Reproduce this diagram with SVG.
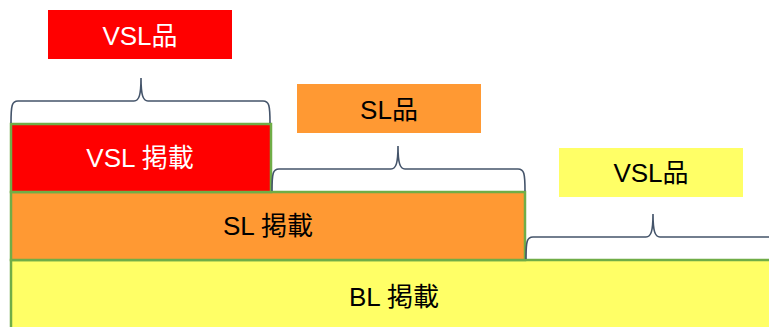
<svg xmlns="http://www.w3.org/2000/svg" width="769" height="327" viewBox="0 0 769 327">
<style>
text{font-family:"Liberation Sans","Noto Sans CJK JP",sans-serif;font-size:26px;text-anchor:middle}
.lbl{stroke:none}
.bar{stroke:#70AD47;stroke-width:2.5}
.brace{fill:none;stroke:#44546A;stroke-width:1.6}
.red{fill:#FF0000}
.org{fill:#FF9933}
.yel{fill:#FFFF66}
.w{fill:#FFFFFF}
.k{fill:#000000}
</style>
<rect width="769" height="327" fill="#FFFFFF"/>
<g id="bl-bar">
<rect class="bar yel" x="11" y="260" width="770" height="80"/>
<text class="k" x="394" y="306">BL 掲載</text>
</g>
<g id="sl-bar">
<rect class="bar org" x="11" y="192" width="514" height="68"/>
<text class="k" x="268" y="235">SL 掲載</text>
</g>
<g id="vsl-bar">
<rect class="bar red" x="11" y="124" width="260" height="68"/>
<text class="w" x="140" y="167">VSL 掲載</text>
</g>
<g id="vsl-label-red">
<rect class="lbl red" x="48" y="10" width="184" height="49"/>
<text class="w" x="140" y="45">VSL品</text>
</g>
<g id="sl-label">
<rect class="lbl org" x="297" y="84" width="184" height="49"/>
<text class="k" x="389" y="119">SL品</text>
</g>
<g id="vsl-label-yellow">
<rect class="lbl yel" x="559" y="148" width="184" height="49"/>
<text class="k" x="651" y="182">VSL品</text>
</g>
<g id="connectors">
<path class="brace" d="M11,123 C11,105 12,101 18,101 L134,101 C139,101 141,95 141,78 C141,95 143,101 148,101 L263,101 C269,101 270,105 270,123"/>
<path class="brace" d="M272,191 C272,173 273,169 279,169 L391,169 C396,169 398,163 398,146 C398,163 400,169 405,169 L518,169 C524,169 525,173 525,191"/>
<path class="brace" d="M526,259 C526,241 527,237 533,237 L646,237 C651,237 653,231 653,214 C653,231 655,237 660,237 L790,237"/>
</g>
</svg>
